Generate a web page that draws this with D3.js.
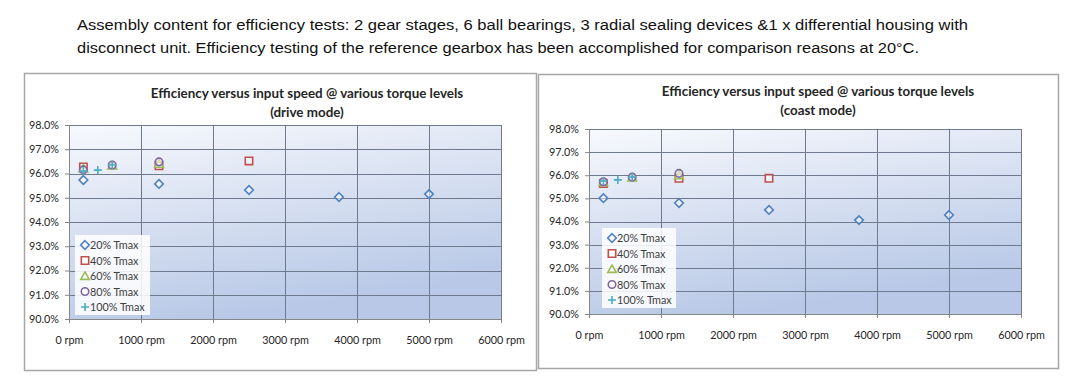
<!DOCTYPE html>
<html>
<head>
<meta charset="utf-8">
<script src="https://cdn.jsdelivr.net/npm/d3@7"></script>
<style>
  body { margin: 0; background: #fff; }
  svg { display: block; }
</style>
</head>
<body>
<div id="viz-wrapper"></div>
<script>
var width = 1080;
var height = 384;

// Header text
var introLines = [
  'Assembly content for efficiency tests: 2 gear stages, 6 ball bearings, 3 radial sealing devices &1 x differential housing with',
  'disconnect unit. Efficiency testing of the reference gearbox has been accomplished for comparison reasons at 20°C.'
];
var introWidths = [891, 842];

// Axis ticks
var speedTicks = [0, 1000, 2000, 3000, 4000, 5000, 6000];
var effTicks = [90, 91, 92, 93, 94, 95, 96, 97, 98];

var seriesNames = ['20% Tmax', '40% Tmax', '60% Tmax', '80% Tmax', '100% Tmax'];

// drive mode, [rpm, efficiency %]
var drive20 = [[200, 95.73], [1250, 95.57], [2500, 95.32], [3750, 95.03], [5000, 95.15]];
var drive40 = [[200, 96.27], [1250, 96.32], [2500, 96.52]];
var drive60 = [[200, 96.2], [600, 96.33], [1250, 96.4]];
var drive80 = [[200, 96.15], [600, 96.35], [1250, 96.48]];
var drive100 = [[200, 96.1], [400, 96.14], [600, 96.35]];

// coast mode
var coast20 = [[200, 95.01], [1250, 94.8], [2500, 94.5], [3750, 94.06], [5000, 94.28]];
var coast40 = [[200, 95.64], [1250, 95.87], [2500, 95.87]];
var coast60 = [[200, 95.7], [600, 95.9], [1250, 96.0]];
var coast80 = [[200, 95.72], [600, 95.92], [1250, 96.08]];
var coast100 = [[200, 95.75], [400, 95.8], [600, 95.92]];

var colors = ['#4f81bd', '#c0504d', '#9bbb59', '#8064a2', '#4bacc6'];
var shapes = ['diamond', 'square', 'triangle', 'circle', 'plus'];

var svg = d3.select('#viz-wrapper').append('svg').attr('width', width).attr('height', height);

var defs = svg.append('defs');
var grad = defs.append('linearGradient').attr('id', 'plotbg')
  .attr('x1', '0%').attr('y1', '0%').attr('x2', '35%').attr('y2', '100%');
grad.append('stop').attr('offset', '0%').attr('stop-color', '#f7f9fd');
grad.append('stop').attr('offset', '100%').attr('stop-color', '#b8c8e6');

svg.append('g').selectAll('text').data(introLines).enter().append('text')
  .attr('x', 77)
  .attr('y', function(d, i) { return 30 + i * 23; })
  .attr('textLength', function(d, i) { return introWidths[i]; })
  .attr('lengthAdjust', 'spacingAndGlyphs')
  .style('font-family', 'Liberation Sans, Arial, sans-serif')
  .style('font-size', '15.5px')
  .style('fill', '#111')
  .text(function(d) { return d; });

function marker(g, shape, color, x, y) {
  var p;
  if (shape === 'plus') {
    p = 'M' + (x - 4) + ',' + y + 'H' + (x + 4) + 'M' + x + ',' + (y - 4) + 'V' + (y + 4);
  } else if (shape === 'diamond') {
    p = 'M' + x + ',' + (y - 4.3) + 'L' + (x + 4.3) + ',' + y + 'L' + x + ',' + (y + 4.3) + 'L' + (x - 4.3) + ',' + y + 'Z';
  } else if (shape === 'square') {
    p = 'M' + (x - 3.7) + ',' + (y - 3.7) + 'h7.4v7.4h-7.4Z';
  } else if (shape === 'triangle') {
    p = 'M' + x + ',' + (y - 4) + 'L' + (x + 4.3) + ',' + (y + 3.4) + 'L' + (x - 4.3) + ',' + (y + 3.4) + 'Z';
  } else {
    p = d3.symbol().type(d3.symbolCircle).size(44)();
    g.append('path').attr('d', p)
      .attr('transform', 'translate(' + x + ',' + y + ')')
      .attr('fill', 'rgba(255,255,255,0.5)')
      .attr('stroke', color).attr('stroke-width', 1.6);
    return;
  }
  g.append('path').attr('d', p)
    .attr('fill', shape === 'plus' ? 'none' : 'rgba(255,255,255,0.5)')
    .attr('stroke', color).attr('stroke-width', 1.6);
}

function drawChart(opt) {
  svg.append('rect')
    .attr('x', opt.frame[0] + 0.5).attr('y', opt.frame[1] + 0.5)
    .attr('width', opt.frame[2]).attr('height', opt.frame[3])
    .attr('fill', '#fff').attr('stroke', '#a6a6a6').attr('stroke-width', 1.5);

  var x = d3.scaleLinear().domain([0, 6000]).range([opt.left, opt.right]);
  var y = d3.scaleLinear().domain([90, 98]).range([opt.bottom, opt.top]);

  var g = svg.append('g');

  g.append('rect')
    .attr('x', x(0)).attr('y', y(98))
    .attr('width', x(6000) - x(0)).attr('height', y(90) - y(98))
    .attr('fill', 'url(#plotbg)');

  // grid
  g.selectAll('.hgrid').data(effTicks).enter().append('line')
    .attr('x1', x(0)).attr('x2', x(6000))
    .attr('y1', function(d) { return Math.round(y(d)) + 0.5; })
    .attr('y2', function(d) { return Math.round(y(d)) + 0.5; })
    .attr('stroke', '#6f7a8e').attr('stroke-width', 1);
  g.selectAll('.vgrid').data(speedTicks).enter().append('line')
    .attr('y1', y(98)).attr('y2', y(90))
    .attr('x1', function(d) { return Math.round(x(d)) + 0.5; })
    .attr('x2', function(d) { return Math.round(x(d)) + 0.5; })
    .attr('stroke', '#6f7a8e').attr('stroke-width', 1);

  var yAxis = d3.axisLeft(y).tickValues(effTicks).tickSize(4).tickPadding(6)
    .tickFormat(function(d) { return d.toFixed(1) + '%'; });
  var xAxis = d3.axisBottom(x).tickValues(speedTicks).tickSize(4).tickPadding(opt.xPad)
    .tickFormat(function(d) { return d + ' rpm'; });

  var ya = g.append('g').attr('transform', 'translate(' + x(0) + ',0)').call(yAxis);
  var xa = g.append('g').attr('transform', 'translate(0,' + y(90) + ')').call(xAxis);
  [ya, xa].forEach(function(a) {
    a.select('.domain').attr('stroke', '#868686');
    a.selectAll('.tick line').attr('stroke', '#868686');
    a.selectAll('text').style('font-family', 'Lato, sans-serif').style('font-size', '10.8px').style('fill', '#262626');
  });

  // title
  g.selectAll('.title').data(opt.title).enter().append('text')
    .attr('x', opt.titleX)
    .attr('y', function(d, i) { return opt.titleY + i * 19; })
    .attr('text-anchor', 'middle')
    .style('font-family', 'Lato, sans-serif').style('font-weight', 'bold')
    .style('font-size', '13.4px').style('fill', '#262626')
    .text(function(d) { return d; });

  // points
  opt.series.forEach(function(s, i) {
    s.forEach(function(p) {
      marker(g, shapes[i], colors[i], x(p[0]), y(p[1]));
    });
  });

  // legend
  var lg = g.append('g');
  lg.append('rect')
    .attr('x', opt.legend[0]).attr('y', opt.legend[1])
    .attr('width', opt.legend[2]).attr('height', opt.legend[3])
    .attr('fill', 'rgba(255,255,255,0.85)');
  seriesNames.forEach(function(name, i) {
    var ly = opt.legend[1] + 10 + i * 15.5;
    marker(lg, shapes[i], colors[i], opt.legend[0] + 10, ly);
    lg.append('text')
      .attr('x', opt.legend[0] + 15).attr('y', ly + 4)
      .style('font-family', 'Lato, sans-serif').style('font-size', '10.8px').style('fill', '#404040')
      .text(name);
  });
}

drawChart({
  frame: [24, 73, 512, 297],
  left: 69, right: 501, top: 125, bottom: 319,
  xPad: 13,
  title: ['Efficiency versus input speed @ various torque levels', '(drive mode)'],
  titleX: 307, titleY: 98,
  series: [drive20, drive40, drive60, drive80, drive100],
  legend: [75, 235, 75, 80]
});

drawChart({
  frame: [538, 74, 520, 294],
  left: 589, right: 1021, top: 129, bottom: 314,
  xPad: 13,
  title: ['Efficiency versus input speed @ various torque levels', '(coast mode)'],
  titleX: 818, titleY: 96,
  series: [coast20, coast40, coast60, coast80, coast100],
  legend: [602, 228, 74, 80]
});
</script>
</body>
</html>
